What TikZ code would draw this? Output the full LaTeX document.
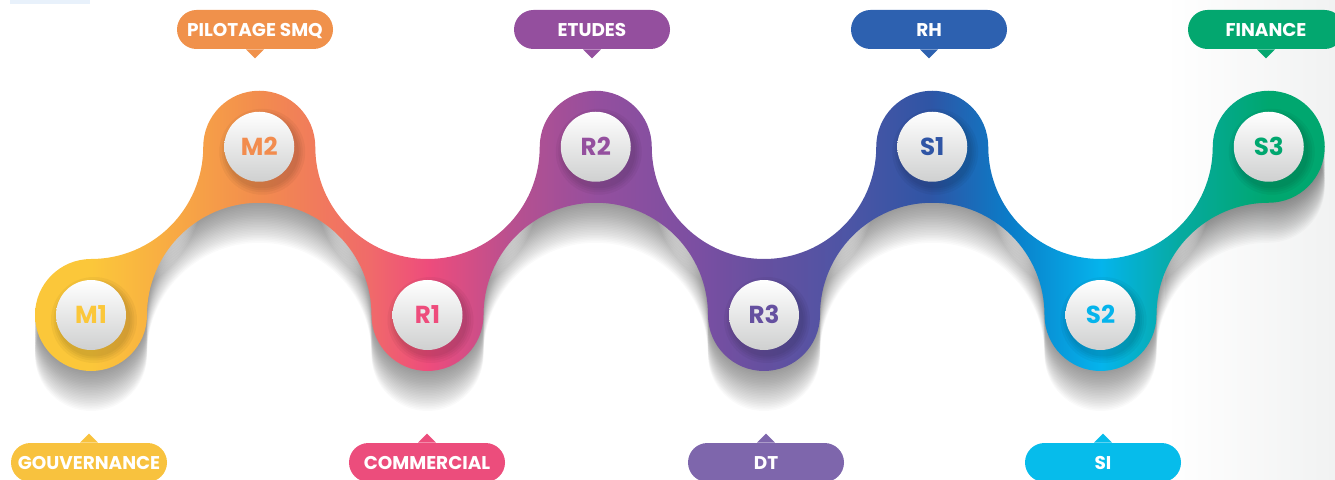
\documentclass[tikz,border=0pt]{standalone}
\usepackage{fontspec}
\setsansfont{Poppins}
\usepackage{xcolor}

% node colours
\definecolor{cM1}{HTML}{FBC73A}
\definecolor{cM2}{HTML}{F28C4E}
\definecolor{cR1}{HTML}{EE4C7C}
\definecolor{cR2}{HTML}{944F9E}
\definecolor{cR3}{HTML}{6550A0}
\definecolor{cS1}{HTML}{2F55A5}
\definecolor{cS2}{HTML}{05B4EC}
\definecolor{cS3}{HTML}{00A76F}
% in between
\definecolor{cA}{HTML}{F8A944}
\definecolor{cB}{HTML}{F06A6A}
\definecolor{cC}{HTML}{B9508F}
\definecolor{cD}{HTML}{7A4FA2}
\definecolor{cE}{HTML}{4C55A5}
\definecolor{cF}{HTML}{0A7DC9}
\definecolor{cG}{HTML}{06AAA0}
% tags
\definecolor{tM1}{HTML}{F8C23E}
\definecolor{tM2}{HTML}{F0914B}
\definecolor{tR1}{HTML}{EC4D7C}
\definecolor{tR2}{HTML}{944F9E}
\definecolor{tR3}{HTML}{7E66AC}
\definecolor{tS1}{HTML}{2D61B0}
\definecolor{tS2}{HTML}{06BCEB}
\definecolor{tS3}{HTML}{03A76F}
\definecolor{dotgray}{HTML}{CFD0D0}
\definecolor{bggray}{HTML}{F1F2F2}
\definecolor{bgblue}{HTML}{E8F1FB}

\pgfdeclarehorizontalshading{waveshade}{100bp}{color(0bp)=(cM1); color(28.41bp)=(cM1);
  color(31.55bp)=(cA); color(34.70bp)=(cM2); color(38.86bp)=(cB); color(41.03bp)=(cR1);
  color(44.10bp)=(cC); color(47.36bp)=(cR2); color(51.22bp)=(cD); color(53.61bp)=(cR3);
  color(56.84bp)=(cE); color(59.79bp)=(cS1); color(62.83bp)=(cF); color(66.24bp)=(cS2);
  color(69.19bp)=(cG); color(72.49bp)=(cS3); color(100bp)=(cS3)}

% outline of the wave: disks r=1.12, fillets R=2.245
\newcommand{\wavepath}{(1.82,2.16) arc (270:90:1.12) arc (270:360:2.245)
  arc (180:0:1.12) arc (180:360:2.245)
  arc (180:0:1.12) arc (180:360:2.245)
  arc (180:0:1.12) arc (180:360:2.245)
  arc (180:-90:1.12) arc (90:180:2.245)
  arc (0:-180:1.12) arc (0:180:2.245)
  arc (0:-180:1.12) arc (0:180:2.245)
  arc (0:-180:1.12) arc (0:180:2.245)
  arc (0:-90:1.12) -- cycle}

\begin{document}
\begin{tikzpicture}[
    dot/.style={circle, minimum size=1.4cm, inner sep=0pt, top color=white, bottom color=dotgray,
      font=\sffamily\bfseries\fontsize{14}{14}\selectfont, text height=9.8pt, text depth=0pt},
    tag/.style={rounded corners=0.39cm, minimum width=3.12cm, minimum height=0.78cm, inner sep=0pt,
      text=white, font=\sffamily\bfseries\fontsize{10.5}{12}\selectfont, text height=7.6pt, text depth=0pt}
  ]
  \useasboundingbox (0,0) rectangle (26.7,9.58);
  \shade[left color=white, right color=bggray] (23.3,0) rectangle (26.7,9.58);
  \fill[bgblue] (0.2,9.50) rectangle (1.8,9.58);

  % shadow under the wave
  \foreach \k in {1,...,25}
    \fill[black, opacity=0.018, yshift=-\k*0.032cm] \wavepath;

  % the wave
  \begin{scope}
    \clip \wavepath;
    \shade[shading=waveshade] (0,0) rectangle (26.7,9.58);
  \end{scope}

  % white dots
  \foreach \x/\y/\n/\c in {1.82/3.28/M1/cM1, 5.185/6.645/M2/cM2, 8.55/3.28/R1/cR1, 11.915/6.645/R2/cR2,
      15.28/3.28/R3/cR3, 18.645/6.645/S1/cS1, 22.01/3.28/S2/cS2, 25.375/6.645/S3/cS3}{
    \foreach \s in {0.86,0.81,0.77,0.73}
      \fill[black, opacity=0.04] (\x+0.06,\y-0.10) circle (\s);
    \node[dot, text=\c] (\n) at (\x,\y) {\n};
  }

  % tags above
  \foreach \x/\t/\c [count=\i] in {5.10/PILOTAGE SMQ/tM2, 11.84/ETUDES/tR2, 18.58/RH/tS1, 25.32/FINANCE/tS3}{
    \node[tag, fill=\c] (up\i) at (\x,8.99) {\t};
    \fill[\c] ([xshift=-0.18cm]up\i.south) -- ++(0.18,-0.18) -- ++(0.18,0.18) -- cycle;
  }
  % tags below
  \foreach \x/\t/\c [count=\i] in {1.78/GOUVERNANCE/tM1, 8.54/COMMERCIAL/tR1, 15.32/DT/tR3, 22.06/SI/tS2}{
    \node[tag, fill=\c] (dn\i) at (\x,0.33) {\t};
    \fill[\c] ([xshift=-0.18cm]dn\i.north) -- ++(0.18,0.18) -- ++(0.18,-0.18) -- cycle;
  }
\end{tikzpicture}
\end{document}
